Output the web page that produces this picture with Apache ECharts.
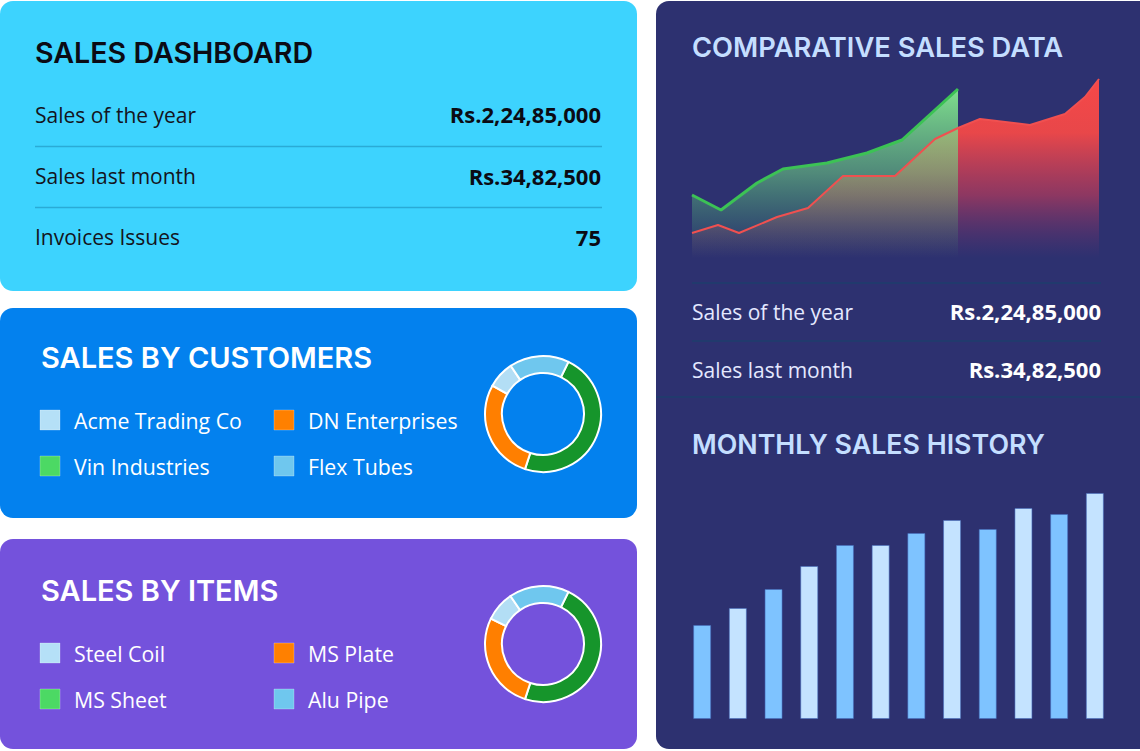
<!DOCTYPE html>
<html><head><meta charset="utf-8">
<script src="https://cdn.jsdelivr.net/npm/echarts@6/dist/echarts.min.js"></script>
<style>html,body{margin:0;padding:0;background:#fff}#c{width:1140px;height:751px}</style>
</head><body><div id="c"></div>
<script>
// ---------- data ----------
const dashTitle = 'SALES DASHBOARD';
const summaryLabels = ['Sales of the year', 'Sales last month', 'Invoices Issues'];
const summaryValues = ['Rs.2,24,85,000', 'Rs.34,82,500', '75'];

const customerTitle = 'SALES BY CUSTOMERS';
const customerNames = ['Vin Industries', 'DN Enterprises', 'Acme Trading Co', 'Flex Tubes'];
const customerShares = [47.8, 28.1, 7.5, 16.6];
const customerLegendOrder = ['Acme Trading Co', 'DN Enterprises', 'Vin Industries', 'Flex Tubes'];

const itemTitle = 'SALES BY ITEMS';
const itemNames = ['MS Sheet', 'MS Plate', 'Steel Coil', 'Alu Pipe'];
const itemShares = [47.8, 27.2, 8.3, 16.7];
const itemLegendOrder = ['Steel Coil', 'MS Plate', 'MS Sheet', 'Alu Pipe'];

const compareTitle = 'COMPARATIVE SALES DATA';
const redX = [0, 26, 47, 85, 116, 151, 203, 243, 266, 288, 338, 373, 393, 407];
const redY = [25, 33, 25, 41, 50, 82, 82, 119, 130, 139, 133, 144, 161, 179];
const greenX = [0, 29, 65, 91, 135, 175, 210, 266];
const greenY = [63, 48, 75, 89, 95, 105, 118, 169];
const compareLabels = ['Sales of the year', 'Sales last month'];
const compareValues = ['Rs.2,24,85,000', 'Rs.34,82,500'];

const historyTitle = 'MONTHLY SALES HISTORY';
const months = ['Jan','Feb','Mar','Apr','May','Jun','Jul','Aug','Sep','Oct','Nov','Dec'];
const monthlySales = [94, 111, 130, 153, 174, 174, 186, 199, 190, 211, 205, 226];

// ---------- styles ----------
const donutColors = {
  'Vin Industries': '#16952B', 'DN Enterprises': '#FF7F00', 'Acme Trading Co': '#B3DEF5', 'Flex Tubes': '#6FC7EE',
  'MS Sheet': '#16952B', 'MS Plate': '#FF7F00', 'Steel Coil': '#B3DEF5', 'Alu Pipe': '#6FC7EE'
};
const legendColors = {
  'Vin Industries': '#4CD964', 'DN Enterprises': '#FF8000', 'Acme Trading Co': '#B5E0F7', 'Flex Tubes': '#6FC7EE',
  'MS Sheet': '#4CD964', 'MS Plate': '#FF8000', 'Steel Coil': '#B5E0F7', 'Alu Pipe': '#6FC7EE'
};
const barColors = ['#7EC3FF', '#C4E3FF'];
const TITLE_FONT = 'Inter';
const BODY_FONT = 'Open Sans';

const chart = echarts.init(document.getElementById('c'), null, { renderer: 'svg' });

function txt(text, x, y, o) {
  o = o || {};
  return {
    type: 'text', silent: true,
    style: {
      text: text, x: x, y: y,
      fill: o.fill || '#000',
      fontSize: o.size || 21,
      fontWeight: o.weight || 'normal',
      fontFamily: o.family || BODY_FONT,
      textAlign: o.align || 'left', align: o.align || 'left',
      textVerticalAlign: 'middle', verticalAlign: 'middle'
    }
  };
}
function hline(x1, x2, y, color, w) {
  return { type: 'line', silent: true, shape: { x1: x1, y1: y, x2: x2, y2: y }, style: { stroke: color, lineWidth: w || 1.5 } };
}
function legendBlock(order, top) {
  const els = [];
  order.forEach(function (name, i) {
    const col = i % 2, row = Math.floor(i / 2);
    const x = col === 0 ? 40 : 274;
    const y = top + row * 46;
    els.push({ type: 'rect', silent: true, shape: { x: x, y: y - 10, width: 20, height: 20 },
      style: { fill: legendColors[name], stroke: 'rgba(255,255,255,0.25)', lineWidth: 1 } });
    els.push(txt(name, x + 34, y, { fill: '#FFFFFF', size: 21.3 }));
  });
  return els;
}

const graphics = [
  // panels
  { type: 'rect', silent: true, shape: { x: 0, y: 1, width: 637, height: 290, r: 13 }, style: { fill: '#3DD3FE' } },
  { type: 'rect', silent: true, shape: { x: 0, y: 308, width: 637, height: 210, r: 13 }, style: { fill: '#0381EE' } },
  { type: 'rect', silent: true, shape: { x: 0, y: 539, width: 637, height: 210, r: 13 }, style: { fill: '#7452DC' } },
  { type: 'rect', silent: true, shape: { x: 656, y: 1, width: 500, height: 748, r: 13 }, style: { fill: '#2D3170' } },
  // dashboard panel
  txt(dashTitle, 35, 52, { size: 28.6, weight: 600, family: TITLE_FONT, fill: '#0B0B14' }),
  hline(35, 602, 146.5, '#2AABD6'),
  hline(35, 602, 207.5, '#2AABD6')
];
summaryLabels.forEach(function (l, i) {
  graphics.push(txt(l, 35, 115 + i * 61, { fill: '#141420' }));
  graphics.push(txt(summaryValues[i], 601, 114 + i * 61.5, { fill: '#0B0B14', weight: 700, align: 'right', size: 22 }));
});
graphics.push(txt(customerTitle, 41, 357, { size: 29, weight: 600, family: TITLE_FONT, fill: '#FFFFFF' }));
legendBlock(customerLegendOrder, 420).forEach(function (e) { graphics.push(e); });
graphics.push(txt(itemTitle, 41, 590, { size: 29, weight: 600, family: TITLE_FONT, fill: '#FFFFFF' }));
legendBlock(itemLegendOrder, 653).forEach(function (e) { graphics.push(e); });
// right panel
graphics.push(txt(compareTitle, 692, 47, { size: 27.3, weight: 600, family: TITLE_FONT, fill: '#C4DEFF' }));
graphics.push(hline(692, 1101, 283, '#1E3E6C'));
graphics.push(hline(692, 1101, 341, '#1E3E6C'));
graphics.push(hline(656, 1140, 397, '#1E3E6C'));
compareLabels.forEach(function (l, i) {
  graphics.push(txt(l, 692, 312 + i * 58, { fill: '#E4E8FF' }));
  graphics.push(txt(compareValues[i], 1101, 311 + i * 58, { fill: '#FFFFFF', weight: 700, align: 'right', size: 22 }));
});
graphics.push(txt(historyTitle, 692, 444, { size: 26.8, weight: 600, family: TITLE_FONT, fill: '#C4DEFF' }));

function pieSeries(names, vals, cy) {
  return {
    type: 'pie', silent: true, center: [543, cy], radius: [41, 58], startAngle: 64, clockwise: true,
    label: { show: false }, labelLine: { show: false }, emphasis: { disabled: true },
    itemStyle: { borderColor: '#FFFFFF', borderWidth: 2 },
    data: names.map(function (n, i) { return { name: n, value: vals[i], itemStyle: { color: donutColors[n] } }; })
  };
}

const option = {
  backgroundColor: '#FFFFFF',
  animation: false,
  graphic: { elements: graphics },
  grid: [
    { left: 692, top: 78, width: 408, height: 180 },
    { left: 684.3, top: 493, width: 428.4, height: 226 }
  ],
  xAxis: [
    { type: 'value', gridIndex: 0, min: 0, max: 408, show: false },
    { type: 'category', gridIndex: 1, data: months, show: false }
  ],
  yAxis: [
    { type: 'value', gridIndex: 0, min: 0, max: 180, show: false },
    { type: 'value', gridIndex: 1, min: 0, max: 226, show: false }
  ],
  series: [
    pieSeries(customerNames, customerShares, 414),
    pieSeries(itemNames, itemShares, 644),
    {
      type: 'line', xAxisIndex: 0, yAxisIndex: 0, silent: true, symbol: 'none',
      data: redX.map(function (x, i) { return [x, redY[i]]; }),
      lineStyle: { color: '#F05050', width: 2 },
      areaStyle: { opacity: 1, color: new echarts.graphic.LinearGradient(0, 0, 0, 1, [
        { offset: 0, color: 'rgba(246,72,72,1)' },
        { offset: 0.3, color: 'rgba(240,72,72,0.96)' },
        { offset: 0.65, color: 'rgba(205,60,88,0.6)' },
        { offset: 1, color: 'rgba(140,50,110,0)' }
      ]) }
    },
    {
      type: 'line', xAxisIndex: 0, yAxisIndex: 0, silent: true, symbol: 'none',
      data: greenX.map(function (x, i) { return [x, greenY[i]]; }),
      lineStyle: { color: '#3CC255', width: 3 },
      areaStyle: { opacity: 1, color: new echarts.graphic.LinearGradient(0, 0, 0, 1, [
        { offset: 0, color: 'rgba(130,228,142,0.97)' },
        { offset: 0.5, color: 'rgba(110,210,130,0.55)' },
        { offset: 1, color: 'rgba(60,190,110,0)' }
      ]) }
    },
    {
      type: 'bar', xAxisIndex: 1, yAxisIndex: 1, silent: true, barWidth: 18,
      data: monthlySales.map(function (v, i) {
        return { value: v, itemStyle: { color: barColors[i % 2], borderColor: 'rgba(70,110,190,0.55)', borderWidth: 1 } };
      })
    }
  ]
};
chart.setOption(option);
</script>
</body></html>
